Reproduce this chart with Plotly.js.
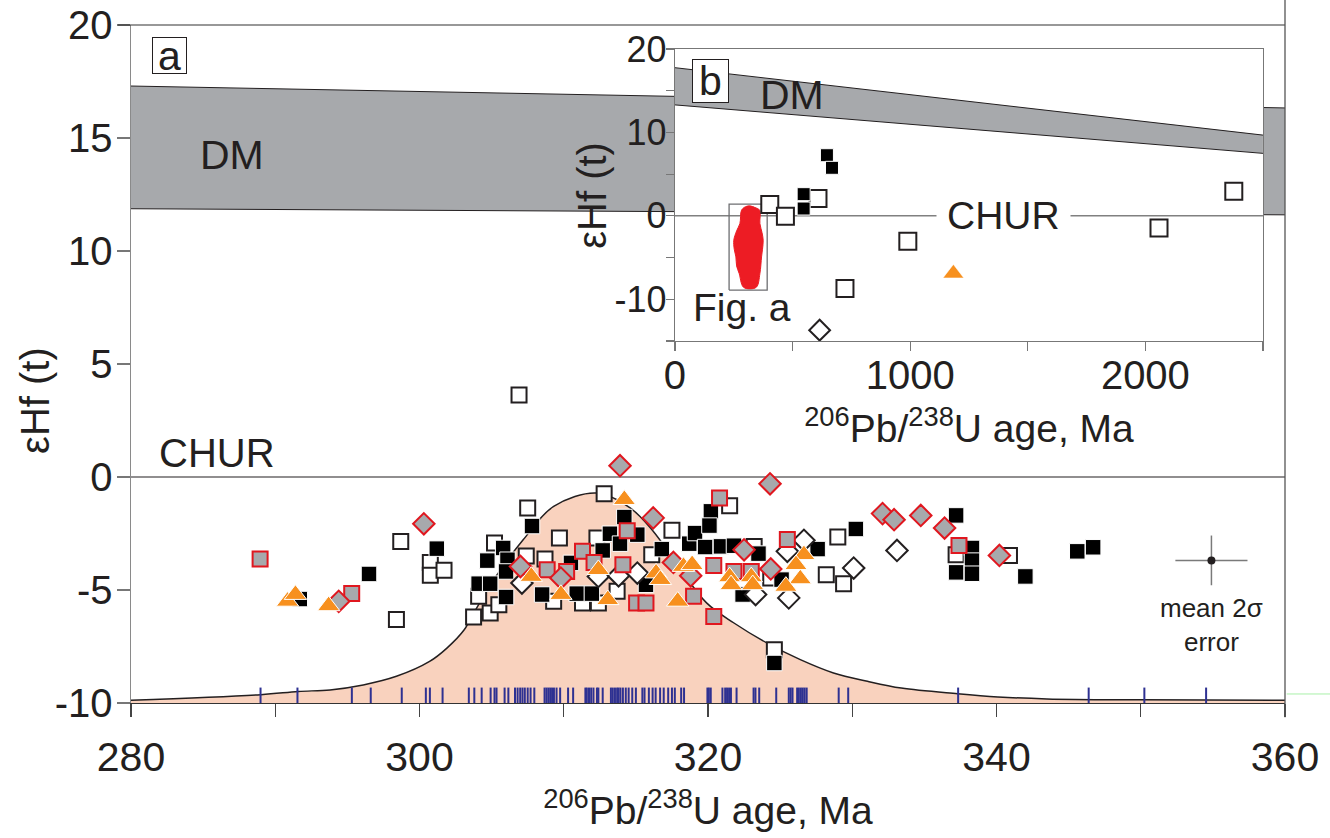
<!DOCTYPE html>
<html><head><meta charset="utf-8">
<script src="https://cdn.plot.ly/plotly-3.0.1.min.js"></script>
<style>html,body{margin:0;padding:0;background:#fff;}#chart{width:1330px;height:838px;}</style>
</head><body><div id="chart"></div>
<script>
// ---------------- DATA (panel a) ----------------
const blackSqAge = [291.7,296.5,301.2,305.8,304.7,306.1,306.0,304.1,304.9,306.0,307.8,314.2,315.1,313.2,313.9,312.7,310.5,308.5,310.9,311.95,315.7,316.8,318.7,319.1,319.8,320.2,320.1,320.9,321.8,323.5,322.4,325.1,327.6,324.6,330.25,337.2,338.3,338.3,337.2,338.3,342.0,345.6,346.7];
const blackSqEps = [-5.4,-4.29,-3.17,-3.14,-3.7,-3.66,-4.18,-4.72,-4.72,-5.31,-2.17,-1.77,-2.55,-2.51,-2.95,-3.25,-3.8,-5.2,-5.16,-5.16,-4.77,-3.19,-2.95,-2.48,-3.1,-1.52,-2.15,-3.07,-3.04,-3.39,-5.2,-4.54,-3.19,-8.23,-2.3,-1.7,-3.14,-3.7,-4.22,-4.28,-4.4,-3.29,-3.11];

const openSqAge = [298.4,298.7,300.75,300.75,301.7,305.2,304.1,303.75,304.9,305.5,307.5,306.9,309.7,312.8,317.5,312.3,307.4,308.7,309.3,311.3,312.4,313.7,316.1,321.5,323.2,324.35,324.6,329.0,328.2,329.4,337.2,340.9];
const openSqEps = [-6.31,-2.85,-3.78,-4.35,-4.13,-2.92,-5.28,-6.2,-6.02,-5.65,-1.37,3.63,-2.7,-0.74,-2.36,-2.7,-3.5,-3.63,-5.5,-5.57,-5.57,-5.06,-3.44,-1.27,-3.07,-4.47,-7.64,-2.65,-4.32,-4.72,-3.44,-3.47];

const openDiaAge = [307.1,312.4,313.8,315.1,323.3,325.5,326.65,325.6,330.1,333.1];
const openDiaEps = [-4.69,-4.4,-4.37,-4.25,-5.2,-3.29,-2.8,-5.35,-4.03,-3.25];

const graySqAge = [288.95,295.3,314.4,311.3,308.85,310.2,312.1,314.1,315.05,315.7,319.0,320.4,320.8,320.4,321.8,323.0,325.5,337.4];
const graySqEps = [-3.63,-5.16,-2.38,-3.29,-4.1,-4.18,-3.78,-3.88,-5.57,-5.57,-5.28,-6.17,-0.93,-3.92,-4.18,-4.18,-2.77,-3.03];

const grayDiaAge = [294.4,300.3,307.0,309.8,316.2,317.6,318.8,313.9,324.3,322.5,324.35,332.1,332.9,334.75,336.4,340.2];
const grayDiaEps = [-5.5,-2.07,-3.96,-4.47,-1.81,-3.78,-4.37,0.5,-0.3,-3.22,-4.07,-1.62,-1.89,-1.7,-2.26,-3.47];

const triAge = [290.85,291.4,293.7,307.75,314.2,309.8,312.4,313.05,316.4,316.7,318.3,318.9,317.9,321.5,321.6,323.0,323.1,326.65,326.1,326.4,325.4];
const triEps = [-5.5,-5.2,-5.7,-4.4,-1.0,-5.2,-4.1,-5.43,-4.25,-4.54,-3.96,-3.88,-5.5,-4.42,-4.77,-4.42,-4.77,-3.44,-3.88,-4.51,-4.84];

// age-probability curve
const curveAge = [280,289,291.6,293.8,296.1,298.4,300.7,301.9,303.1,303.5,305.3,307.2,309.3,312.3,314.6,316.2,318.0,319.9,321.8,324.1,326.4,328.7,331.05,333.4,337.3,340.1,343.5,350,360];
const curveEps = [-9.88,-9.63,-9.49,-9.42,-9.2,-8.82,-8.16,-7.57,-6.76,-6.31,-4.4,-2.77,-1.3,-0.71,-1.37,-2.4,-4.0,-5.57,-6.46,-7.35,-8.08,-8.67,-9.04,-9.34,-9.59,-9.73,-9.82,-9.86,-9.88];

// rug of analysed ages
const rugAge = [288.98,291.54,295.31,296.62,298.77,300.44,300.72,301.6,303.42,303.8,304.31,304.93,305.2,305.34,305.9,306.16,306.62,306.8,306.98,307.14,307.3,307.5,307.7,307.96,308.67,308.8,308.93,309.06,309.19,309.32,309.5,309.75,310.3,310.65,311.5,311.6,311.75,311.9,312.06,312.3,312.4,312.7,313.27,313.4,313.55,313.7,313.8,313.93,314.1,314.3,314.5,314.75,315.0,315.45,315.6,315.9,316.16,316.37,316.68,316.93,317.24,317.5,317.7,318.14,318.34,319.96,320.06,320.19,321.0,321.19,321.32,321.46,321.59,321.98,323.16,323.29,323.55,324.73,325.6,325.73,325.86,326.18,326.3,326.44,326.57,326.7,326.84,329.06,329.72,337.34,346.39,350.25,354.53];

// DM band and CHUR (panel a)
const dmAge = [280,360];
const dmTop = [17.3,16.33];
const dmBottom = [11.87,11.6];
const churAge = [280,360];
const churEps = [0,0];

// mean 2 sigma error
const errAge = [354.9];
const errEps = [-3.69];
const errAge2s = [2.5];
const errEps2s = [1.1];

// axis ticks
const xMajor = [280,300,320,340,360];
const xMinor = [290,310,330,350];
const yMajor = [-10,-5,0,5,10,15,20];
const yMajorText = ['-10','-5','0','5','10','15','20'];
const bxMajor = [0,1000,2000];
const bxMinor = [500,1500,2500];
const byMajor = [-10,0,10,20];
const byMajorText = ['-10','0','10','20'];
const byMinor = [-15,-5,5,15];

// ---------------- DATA (panel b, inset) ----------------
const bBlackSqAge = [646,667.5,547,547];
const bBlackSqEps = [7.27,5.76,2.6,0.88];
const bOpenSqAge = [608,403,469.5,990,722.7,2376,2058];
const bOpenSqEps = [2.08,1.36,-0.04,-3.04,-8.7,2.96,-1.44];
const bOpenDiaAge = [615];
const bOpenDiaEps = [-13.7];
const bTriAge = [1183.7];
const bTriEps = [-6.9];
const bDmAge = [0,2500];
const bDmTop = [17.76,9.68];
const bDmBottom = [13.3,7.49];
const bChurAge = [0,2500];
const bChurEps = [0,0];
const blobAge = [318,340,360,361,370,375,372,368,361,347,318,290,273,262,259,252,250,262,276,283,300,318];
const blobEps = [1.2,1.0,0.68,-0.92,-2.0,-2.92,-4.0,-4.92,-6.92,-8.52,-8.76,-8.52,-6.92,-6.0,-4.92,-4.0,-2.92,-1.8,-0.92,0.68,1.1,1.2];
const figABoxAge = [230,392];
const figABoxEps = [-8.9,1.4];

// ---------------- STYLE ----------------
const FONT = 'Liberation Sans, Arial, sans-serif';
const INK = '#231f20';
const RED = '#e0171f';
const GRAYF = '#a7a9ac';
const ORANGE = '#f7901e';
const RUG_Y = -9.72;

const traces = [];
traces.push({x:dmAge,y:dmBottom,mode:'lines',line:{color:INK,width:1},hoverinfo:'skip',showlegend:false});
traces.push({x:dmAge,y:dmTop,mode:'lines',fill:'tonexty',fillcolor:GRAYF,line:{color:INK,width:1},hoverinfo:'skip',showlegend:false});
traces.push({x:churAge,y:churEps,mode:'lines',line:{color:INK,width:1.2},showlegend:false});
traces.push({x:[curveAge[0],curveAge[curveAge.length-1]],y:[-10,-10],mode:'lines',line:{width:0,color:'rgba(0,0,0,0)'},showlegend:false,hoverinfo:'skip'});
traces.push({x:curveAge,y:curveEps,mode:'lines',line:{color:INK,width:1.5,shape:'spline',smoothing:1},fill:'tonexty',fillcolor:'#f9d2be',showlegend:false});
traces.push({x:rugAge,y:rugAge.map(()=>RUG_Y),mode:'markers',marker:{symbol:'line-ns',size:13,line:{color:'#2e3192',width:2}},showlegend:false});
function sym(x,y,symbol,size,color,lc,lw,xa,ya){
  return {x:x,y:y,mode:'markers',marker:{symbol:symbol,size:size,color:color,line:{color:lc,width:lw}},showlegend:false,xaxis:xa||'x',yaxis:ya||'y'};
}
traces.push(sym(openSqAge,openSqEps,'square',15,'#ffffff',INK,2));
traces.push(sym(blackSqAge,blackSqEps,'square',15.5,'#000000','#ffffff',1));
traces.push(sym(openDiaAge,openDiaEps,'diamond',16.5,'#ffffff',INK,2));
traces.push(sym(graySqAge,graySqEps,'square',15,GRAYF,RED,2));
traces.push(sym(grayDiaAge,grayDiaEps,'diamond',16.5,GRAYF,RED,2));
traces.push(sym(triAge,triEps,'triangle-up',19.5,ORANGE,'#ffffff',1));
traces.push({x:errAge,y:errEps,mode:'markers',marker:{color:INK,size:8},
  error_x:{type:'data',array:errAge2s,color:'#7a7a7a',thickness:1.5,width:0},
  error_y:{type:'data',array:errEps2s,color:'#7a7a7a',thickness:1.5,width:0},showlegend:false});

traces.push({x:bDmAge,y:bDmBottom,mode:'lines',line:{color:INK,width:1},xaxis:'x2',yaxis:'y2',showlegend:false,hoverinfo:'skip'});
traces.push({x:bDmAge,y:bDmTop,mode:'lines',fill:'tonexty',fillcolor:GRAYF,line:{color:INK,width:1},xaxis:'x2',yaxis:'y2',showlegend:false,hoverinfo:'skip'});
traces.push({x:bChurAge,y:bChurEps,mode:'lines',line:{color:'#808080',width:1.5},xaxis:'x2',yaxis:'y2',showlegend:false});
traces.push({x:blobAge,y:blobEps,mode:'lines',fill:'toself',fillcolor:'#ed1c24',line:{color:'#ed1c24',width:1,shape:'spline',smoothing:1},xaxis:'x2',yaxis:'y2',showlegend:false});
traces.push({x:[figABoxAge[0],figABoxAge[1],figABoxAge[1],figABoxAge[0],figABoxAge[0]],y:[figABoxEps[0],figABoxEps[0],figABoxEps[1],figABoxEps[1],figABoxEps[0]],mode:'lines',line:{color:'#6d6e71',width:1.3},xaxis:'x2',yaxis:'y2',showlegend:false});
traces.push(sym(bOpenSqAge,bOpenSqEps,'square',17,'#ffffff',INK,2,'x2','y2'));
traces.push(sym(bBlackSqAge,bBlackSqEps,'square',13,'#000000','#ffffff',1,'x2','y2'));
traces.push(sym(bOpenDiaAge,bOpenDiaEps,'diamond',16,'#ffffff',INK,2,'x2','y2'));
traces.push(sym(bTriAge,bTriEps,'triangle-up',18,ORANGE,'#ffffff',0.5,'x2','y2'));

const axTitleFont = {family:FONT,size:39,color:INK};
const layout = {
  width:1330,height:838,
  margin:{l:131,r:45,t:25,b:135,pad:0},
  paper_bgcolor:'#ffffff',plot_bgcolor:'#ffffff',
  font:{family:FONT,color:INK},
  showlegend:false,
  xaxis:{domain:[0,1],anchor:'y',range:[280,360],
    tickmode:'array',tickvals:xMajor,ticklabelstandoff:5,
    minor:{tickmode:'array',tickvals:xMinor,ticks:'outside',ticklen:13,tickwidth:1.2,tickcolor:'#444',showgrid:false},
    ticks:'outside',ticklen:13,tickwidth:1.2,tickcolor:'#444',
    showline:true,linecolor:'#333',linewidth:1.2,mirror:false,
    showgrid:false,zeroline:false,tickfont:{family:FONT,size:41,color:INK},
    title:{text:'<sup>206</sup>Pb/<sup>238</sup>U age, Ma',font:axTitleFont,standoff:17}},
  yaxis:{domain:[0,1],anchor:'x',range:[-10,20],
    tickmode:'array',tickvals:yMajor,ticktext:yMajorText,ticklabelstandoff:-4,
    ticks:'outside',ticklen:13,tickwidth:1.2,tickcolor:'#777',
    showline:true,linecolor:'#8a8a8a',linewidth:1.5,
    showgrid:false,zeroline:false,tickfont:{family:FONT,size:40,color:INK}},
  xaxis2:{domain:[0.4714,0.9809],anchor:'y2',range:[0,2500],
    tickmode:'array',tickvals:bxMajor,ticklabelstandoff:-10,
    minor:{tickmode:'array',tickvals:bxMinor,ticks:'outside',ticklen:9,tickwidth:1.2,tickcolor:'#777',showgrid:false},
    ticks:'outside',ticklen:9,tickwidth:1.2,tickcolor:'#777',
    showline:true,linecolor:'#777',linewidth:1.3,mirror:true,
    showgrid:false,zeroline:false,tickfont:{family:FONT,size:40,color:INK},
    title:{text:'<sup>206</sup>Pb/<sup>238</sup>U age, Ma',font:axTitleFont,standoff:18}},
  yaxis2:{domain:[0.5339,0.9646],anchor:'x2',range:[-15,20],
    tickmode:'array',tickvals:byMajor,ticktext:byMajorText,ticklabelstandoff:-8,
    minor:{tickmode:'array',tickvals:byMinor,ticks:'outside',ticklen:8,tickwidth:1.2,tickcolor:'#777',showgrid:false},
    ticks:'outside',ticklen:8,tickwidth:1.2,tickcolor:'#777',
    showline:true,linecolor:'#777',linewidth:1.3,mirror:true,
    showgrid:false,zeroline:false,tickfont:{family:FONT,size:36,color:INK}},
  shapes:[
    {type:'rect',xref:'x2',yref:'y2',x0:0,x1:2500,y0:-15,y1:20,fillcolor:'#ffffff',line:{width:0},layer:'below'},
    {type:'line',xref:'paper',yref:'paper',x0:-0.0113,x1:1,y0:1,y1:1,line:{color:'#333',width:1.2},layer:'above'},
    {type:'line',xref:'paper',yref:'paper',x0:1,x1:1,y0:-0.021,y1:1.037,line:{color:'#555',width:1.3},layer:'above'},
    {type:'line',xref:'paper',yref:'paper',x0:1.0015,x1:1.04,y0:0.0133,y1:0.0133,line:{color:'#a8f0a8',width:1},layer:'above'}
  ],
  annotations:[
    {xref:'paper',yref:'paper',x:-0.0832,y:0.447,xanchor:'center',yanchor:'middle',text:'εHf (t)',textangle:-90,showarrow:false,font:{family:FONT,size:40,color:INK}},
    {xref:'paper',yref:'paper',x:0.4,y:0.749,xanchor:'center',yanchor:'middle',text:'εHf (t)',textangle:-90,showarrow:false,font:{family:FONT,size:40,color:INK}},
    {xref:'x',yref:'y',x:282.64,y:18.63,text:'a',showarrow:false,font:{family:FONT,size:41,color:INK},bgcolor:'#fff',bordercolor:INK,borderwidth:1,borderpad:1,width:31,height:33},
    {xref:'x',yref:'y',x:287.0,y:14.26,text:'DM',showarrow:false,font:{family:FONT,size:41,color:INK}},
    {xref:'x',yref:'y',x:281.8,y:0,xanchor:'left',yanchor:'bottom',text:'CHUR',showarrow:false,font:{family:FONT,size:40,color:INK}},
    {xref:'x',yref:'y',x:354.9,y:-6.55,text:'mean 2σ<br>error',showarrow:false,font:{family:FONT,size:26,color:INK}},
    {xref:'x2',yref:'y2',x:152.7,y:16.16,text:'b',showarrow:false,font:{family:FONT,size:41,color:INK},bgcolor:'#fff',bordercolor:INK,borderwidth:1,borderpad:1,width:33,height:40},
    {xref:'x2',yref:'y2',x:496,y:14.48,text:'DM',showarrow:false,font:{family:FONT,size:41,color:INK}},
    {xref:'x2',yref:'y2',x:1396,y:0,text:'CHUR',showarrow:false,font:{family:FONT,size:39,color:INK},bgcolor:'#fff',borderpad:10},
    {xref:'x2',yref:'y2',x:68,y:-11.0,xanchor:'left',text:'Fig. a',showarrow:false,font:{family:FONT,size:39,color:INK}}
  ]
};
Plotly.newPlot('chart',traces,layout,{displayModeBar:false,staticPlot:true});
</script></body></html>
